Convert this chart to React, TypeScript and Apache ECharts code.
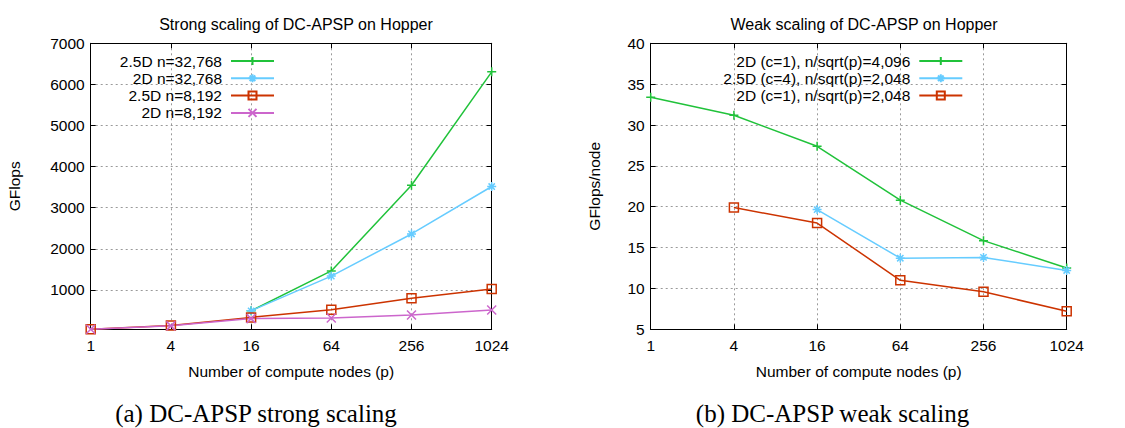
import React, { useEffect, useRef } from 'react';
import * as echarts from 'echarts';

const nodes = [1, 4, 16, 64, 256, 1024];

const strongTitle = 'Strong scaling of DC-APSP on Hopper';
const weakTitle = 'Weak scaling of DC-APSP on Hopper';
const strongNames = ['2.5D n=32,768', '2D n=32,768', '2.5D n=8,192', '2D n=8,192'];
const strong25D32k = [null, null, 490, 1460, 3545, 6305];
const strong2D32k = [null, null, 490, 1335, 2360, 3515];
const strong25D8k = [42, 130, 330, 515, 795, 1020];
const strong2D8k = [42, 124, 300, 315, 388, 510];

const weakNames = ['2D (c=1), n/sqrt(p)=4,096', '2.5D (c=4), n/sqrt(p)=2,048', '2D (c=1), n/sqrt(p)=2,048'];
const weak2D4096 = [33.4, 31.2, 27.4, 20.8, 15.85, 12.5];
const weak25D2048 = [null, null, 19.65, 13.7, 13.8, 12.2];
const weak2D2048 = [null, 19.9, 18.0, 11.0, 9.6, 7.2];

const captions = ['(a) DC-APSP strong scaling', '(b) DC-APSP weak scaling'];

const SANS = '"Liberation Sans", Arial, Helvetica, sans-serif';
const SERIF = '"Liberation Serif", "Times New Roman", serif';
const FS = 15.5;

const GREEN = '#20c23a';
const BLUE = '#66ccff';
const RED = '#cc3300';
const MAGENTA = '#cc66cc';

const PLUS = 'path://M0,5L10,5M5,0L5,10';
const STAR = 'path://M0,5L10,5M5,0L5,10M1.5,1.5L8.5,8.5M8.5,1.5L1.5,8.5';
const SQUARE = 'path://M0,0L10,0L10,10L0,10Z';
const CROSS = 'path://M0,0L10,10M10,0L0,10';

function mk(name: string, vals: (number | null)[], color: string, symbol: string, idx: number, hollow = false) {
  return {
    type: 'line',
    name,
    xAxisIndex: idx,
    yAxisIndex: idx,
    data: nodes.map((n, i) => (vals[i] == null ? null : [n, vals[i]])).filter((d) => d !== null),
    symbol,
    symbolSize: 9,
    showAllSymbol: true,
    clip: false,
    color,
    lineStyle: { color, width: 1.5 },
    itemStyle: { color: hollow ? 'rgba(0,0,0,0)' : color, borderColor: color, borderWidth: 1.5 },
    emphasis: { disabled: true },
  };
}

const gridLine = { show: true, lineStyle: { color: '#9a9a9a', type: [2, 3], width: 1 } };
const axisLine = { show: true, lineStyle: { color: '#000', width: 1 } };
const tick = { show: true, inside: true, length: 5, lineStyle: { color: '#000', width: 1 } };
const labelStyle = { color: '#000', fontSize: FS, fontFamily: SANS };

function xAxes(gi: number) {
  const base = { type: 'log', logBase: 4, min: 1, max: 1024, gridIndex: gi, axisLine, axisTick: tick };
  return [
    {
      ...base,
      position: 'bottom',
      axisLabel: { ...labelStyle, margin: 8, formatter: (v: number) => String(Math.round(v)) },
      splitLine: gridLine,
      name: 'Number of compute nodes (p)',
      nameLocation: 'middle',
      nameGap: 34,
      nameTextStyle: labelStyle,
    },
    { ...base, position: 'top', axisLabel: { show: false }, splitLine: { show: false } },
  ];
}

function yAxes(gi: number, range: any, name: string, gap: number, fmt: (v: number) => string) {
  const base = { type: 'value', gridIndex: gi, ...range, axisLine, axisTick: tick };
  return [
    {
      ...base,
      position: 'left',
      axisLabel: { ...labelStyle, margin: 6, formatter: fmt },
      splitLine: gridLine,
      name,
      nameLocation: 'middle',
      nameRotate: 90,
      nameGap: gap,
      nameTextStyle: labelStyle,
    },
    { ...base, position: 'right', axisLabel: { show: false }, splitLine: { show: false } },
  ];
}

const legendBase = {
  orient: 'vertical',
  align: 'right',
  itemWidth: 43,
  itemHeight: 10,
  itemGap: 1.3,
  padding: 0,
  selectedMode: false,
  textStyle: { color: '#000', fontSize: FS, fontFamily: SANS, padding: [0, 4, 0, 0] },
};

export default function App() {
  const ref = useRef<HTMLDivElement>(null);
  useEffect(() => {
    if (!ref.current) return;
    const chart = echarts.init(ref.current, null, { renderer: 'svg' });
    const titleStyle = { color: '#000', fontSize: 16, fontWeight: 'normal', fontFamily: SANS };
    const option: any = {
      animation: false,
      backgroundColor: '#fff',
      title: [
        { text: strongTitle, left: 291, top: 11, textAlign: 'center', textStyle: titleStyle },
        { text: weakTitle, left: 859, top: 11, textAlign: 'center', textStyle: titleStyle },
      ],
      grid: [
        { left: 90.7, right: 633.3, top: 43.3, bottom: 98.7 },
        { left: 650.7, right: 58.3, top: 43.3, bottom: 98.7 },
      ],
      xAxis: [...xAxes(0), ...xAxes(1)],
      yAxis: [
        ...yAxes(0, { min: 40, max: 7000, splitNumber: 7 }, 'GFlops', 68, (v: number) => (v % 1000 === 0 ? String(v) : '')),
        ...yAxes(1, { min: 5, max: 40, interval: 5 }, 'GFlops/node', 48, (v: number) => String(v)),
      ],
      legend: [
        { ...legendBase, data: strongNames, right: 850, top: 53 },
        { ...legendBase, data: weakNames, right: 161.7, top: 53 },
      ],
      series: [
        mk(strongNames[0], strong25D32k, GREEN, PLUS, 0),
        mk(strongNames[1], strong2D32k, BLUE, STAR, 0),
        mk(strongNames[2], strong25D8k, RED, SQUARE, 0, true),
        mk(strongNames[3], strong2D8k, MAGENTA, CROSS, 0),
        mk(weakNames[0], weak2D4096, GREEN, PLUS, 2),
        mk(weakNames[1], weak25D2048, BLUE, STAR, 2),
        mk(weakNames[2], weak2D2048, RED, SQUARE, 2, true),
      ],
      graphic: [
        { type: 'text', x: 256, y: 413.5, style: { text: captions[0], fontSize: 25, fontFamily: SERIF, fill: '#000', align: 'center', verticalAlign: 'middle' } },
        { type: 'text', x: 832.5, y: 413.5, style: { text: captions[1], fontSize: 25, fontFamily: SERIF, fill: '#000', align: 'center', verticalAlign: 'middle' } },
      ],
    };
    chart.setOption(option);
    return () => chart.dispose();
  }, []);
  return <div ref={ref} style={{ position: 'fixed', left: 0, top: 0, width: 1125, height: 428, background: '#fff' }} />;
}
